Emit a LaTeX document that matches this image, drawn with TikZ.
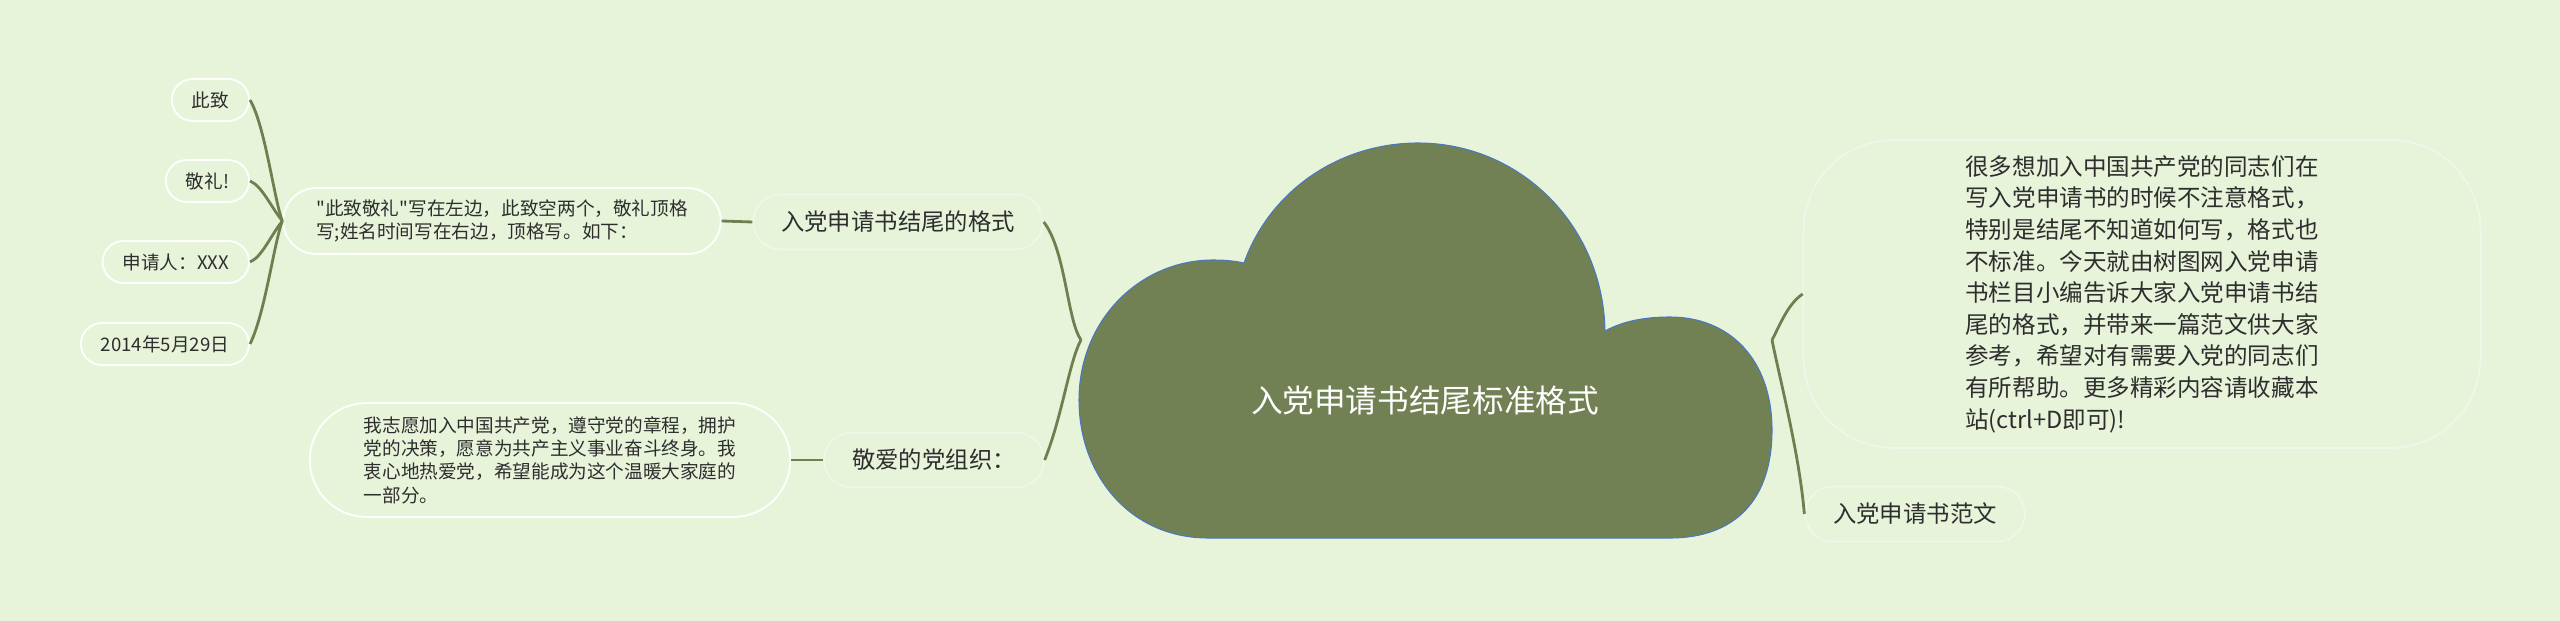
\documentclass[tikz,border=0pt]{standalone}
\usepackage{fontspec}
\setmainfont{Noto Sans CJK SC}[Ligatures=TeXOff]
\usepackage{tikz}

\definecolor{bgcol}{HTML}{E7F4DA}
\definecolor{branchcol}{HTML}{717E50}
\definecolor{cloudcol}{HTML}{718153}
\definecolor{cloudline}{HTML}{4A78C2}
\definecolor{textcol}{HTML}{2E2E2E}
\definecolor{boxline}{HTML}{EFF7E8}

\begin{document}
\begin{tikzpicture}[x=0.02cm,y=-0.02cm,
    branch/.style={draw=branchcol,line width=1.6pt},
    leaf/.style={draw=white,line width=1pt,fill=bgcol,text=textcol,anchor=east,
      inner xsep=0.4cm,minimum height=0.84cm,rounded corners=0.42cm,
      font=\fontsize{10.6}{13.3}\selectfont},
    note/.style={draw=white,line width=1pt,fill=bgcol,text=textcol,align=left,
      font=\fontsize{10.6}{13.3}\selectfont},
    topic/.style={draw=boxline,line width=1pt,fill=bgcol,text=textcol,
      inner xsep=0.56cm,minimum height=1.1cm,rounded corners=0.55cm,
      font=\fontsize{13.3}{18}\selectfont}]
    \fill[bgcol] (0,0) rectangle (2560,621);
    \useasboundingbox (0,0) rectangle (2560,621);

    % cloud
    \filldraw[fill=cloudcol,draw=cloudline,line width=0.6pt]
    (1208,538) .. controls (1130,538) and (1079,475) .. (1079,400)
    .. controls (1079,320) and (1140,260) .. (1213,260)
    .. controls (1225,260) and (1235,261) .. (1244,263)
    .. controls (1270,190) and (1340,143) .. (1418,143)
    .. controls (1520,143) and (1603,225) .. (1605,331)
    .. controls (1625,320) and (1648,317) .. (1670,317)
    .. controls (1730,317) and (1772,360) .. (1772,430)
    .. controls (1772,500) and (1735,538) .. (1670,538)
    -- cycle;
    \node[text=white,font=\fontsize{18}{22}\selectfont] (title) at (1425,400) {入党申请书结尾标准格式};
    \coordinate (cl) at (1081,340);
    \coordinate (cr) at (1772,340);

    % left side
    \node[topic] (fmt) at (898,222) {入党申请书结尾的格式};
    \node[topic] (dear) at (934,460) {敬爱的党组织：};
    \node[note,inner xsep=0.66cm,minimum height=1.32cm,rounded corners=0.66cm] (ending) at (502,221)
      {"此致敬礼"写在左边，此致空两个，敬礼顶格\\写;姓名时间写在右边，顶格写。如下：};
    \node[note,inner xsep=1.08cm,minimum height=2.28cm,rounded corners=1.14cm] (pledge) at (550,460)
      {我志愿加入中国共产党，遵守党的章程，拥护\\党的决策，愿意为共产主义事业奋斗终身。我\\衷心地热爱党，希望能成为这个温暖大家庭的\\一部分。};

    \node[leaf] (zhi) at (250,100) {此致};
    \node[leaf] (jingli) at (250,181) {敬礼!};
    \node[leaf] (applicant) at (250,262) {申请人：XXX};
    \node[leaf] (date) at (250,344) {2014年5月29日};

    % right side
    \node[topic,minimum width=13.54cm,minimum height=6.16cm,rounded corners=1.8cm,align=left,
      font=\fontsize{13.4}{18}\selectfont] (intro) at (2142,294)
      {很多想加入中国共产党的同志们在\\写入党申请书的时候不注意格式，\\特别是结尾不知道如何写，格式也\\不标准。今天就由树图网入党申请\\书栏目小编告诉大家入党申请书结\\尾的格式，并带来一篇范文供大家\\参考，希望对有需要入党的同志们\\有所帮助。更多精彩内容请收藏本\\站(ctrl+D即可)!};
    \node[topic] (sample) at (1915,514) {入党申请书范文};

    \draw[branch] (cl) .. controls +(-14,-20) and +(22,28) .. (fmt.east);
    \draw[branch] (cl) .. controls +(-12,22) and +(18,-45) .. (dear.east);
    \draw[branch] (ending.east) -- (fmt.west);
    \draw[branch] (pledge.east) -- (dear.west);
    \draw[branch] (ending.west) .. controls +(-8,-20) and +(15,25) .. (zhi.east);
    \draw[branch] (ending.west) .. controls +(-12,-15) and +(12,5) .. (jingli.east);
    \draw[branch] (ending.west) .. controls +(-12,15) and +(12,-5) .. (applicant.east);
    \draw[branch] (ending.west) .. controls +(-8,20) and +(15,-30) .. (date.east);
    \draw[branch] (cr) .. controls +(8,-15) and +(-15,10) .. (intro.west);
    \draw[branch] (cr) .. controls +(8,40) and +(-5,-60) .. (sample.west);
\end{tikzpicture}
\end{document}
